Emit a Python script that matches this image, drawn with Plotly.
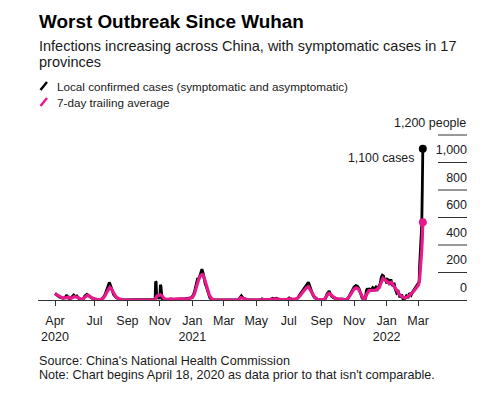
import plotly.graph_objects as go

# ---------------- data ----------------
daily_dates = [
    "2020-04-18", "2020-04-21", "2020-04-24", "2020-04-27", "2020-04-30", "2020-05-03", "2020-05-07",
    "2020-05-10", "2020-05-12", "2020-05-16", "2020-05-20", "2020-05-23", "2020-05-26", "2020-05-29",
    "2020-06-02", "2020-06-06", "2020-06-10", "2020-06-13", "2020-06-17", "2020-06-20", "2020-06-24",
    "2020-06-28", "2020-07-03", "2020-07-08", "2020-07-14", "2020-07-18", "2020-07-21", "2020-07-24",
    "2020-07-27", "2020-07-29", "2020-07-31", "2020-08-03", "2020-08-06", "2020-08-10", "2020-08-14",
    "2020-08-18", "2020-08-22", "2020-10-18", "2020-10-21", "2020-10-23", "2020-10-24", "2020-10-25",
    "2020-10-26", "2020-10-28", "2020-10-30", "2020-11-01", "2020-11-02", "2020-11-03", "2020-11-05",
    "2020-11-08", "2020-11-12", "2020-11-18", "2020-11-22", "2020-11-26", "2020-12-01", "2020-12-05",
    "2020-12-10", "2020-12-15", "2020-12-20", "2020-12-25", "2020-12-29",
    "2021-01-02", "2021-01-05", "2021-01-08", "2021-01-11", "2021-01-13", "2021-01-15", "2021-01-17",
    "2021-01-19", "2021-01-21", "2021-01-23", "2021-01-25", "2021-01-27", "2021-01-29", "2021-01-31",
    "2021-02-03", "2021-02-06", "2021-02-10", "2021-03-28", "2021-03-31", "2021-04-03", "2021-04-06",
    "2021-04-09", "2021-04-14", "2021-05-10", "2021-05-12", "2021-05-14", "2021-05-18", "2021-05-28",
    "2021-06-01", "2021-06-04", "2021-06-08", "2021-06-12", "2021-06-18", "2021-06-28", "2021-07-02",
    "2021-07-05", "2021-07-08", "2021-07-14", "2021-07-18", "2021-07-22", "2021-07-26", "2021-07-30",
    "2021-08-02", "2021-08-05", "2021-08-07", "2021-08-09", "2021-08-12", "2021-08-15", "2021-08-18",
    "2021-08-21", "2021-08-24", "2021-09-05", "2021-09-08", "2021-09-11", "2021-09-13", "2021-09-15",
    "2021-09-17", "2021-09-20", "2021-09-24", "2021-09-28", "2021-10-03", "2021-10-08", "2021-10-13",
    "2021-10-17", "2021-10-20", "2021-10-23", "2021-10-26", "2021-10-29", "2021-11-01", "2021-11-04",
    "2021-11-07", "2021-11-10", "2021-11-13", "2021-11-16", "2021-11-19", "2021-11-22", "2021-11-24",
    "2021-11-26", "2021-11-28", "2021-11-30", "2021-12-03", "2021-12-06", "2021-12-09", "2021-12-12",
    "2021-12-15", "2021-12-18", "2021-12-20", "2021-12-22", "2021-12-24", "2021-12-26", "2021-12-28",
    "2021-12-30", "2022-01-01", "2022-01-03", "2022-01-05", "2022-01-07", "2022-01-09", "2022-01-11",
    "2022-01-13", "2022-01-15", "2022-01-17", "2022-01-20", "2022-01-23", "2022-01-26", "2022-01-29",
    "2022-02-01", "2022-02-04", "2022-02-07", "2022-02-10", "2022-02-13", "2022-02-16", "2022-02-19",
    "2022-02-22", "2022-02-25", "2022-02-27", "2022-03-01", "2022-03-03", "2022-03-04", "2022-03-05",
    "2022-03-06", "2022-03-07", "2022-03-08", "2022-03-09", "2022-03-10",
]
daily_cases = [
    48, 35, 28, 20, 15, 12, 18,
    36, 15, 10, 22, 36, 25, 30,
    10, 2, 8, 30, 42, 30, 20,
    10, 4, 2, 4, 20, 40, 75,
    95, 128, 110, 70, 40, 20, 8,
    2, 0, 0, 5, 10, 135, 130,
    15, 20, 10, 30, 110, 100, 10,
    5, 2, 5, 8, 3, 6, 4,
    8, 6, 10, 12, 15,
    30, 60, 110, 160, 150, 180, 200,
    225, 200, 150, 120, 100, 70, 40,
    15, 5, 0, 0, 20, 30, 15,
    8, 0, 0, 8, 4, 0, 5,
    12, 8, 12, 5, 2, 3, 15,
    10, 3, 5, 15, 40, 60, 85,
    95, 115, 128, 110, 70, 40, 20,
    8, 2, 0, 10, 45, 60, 65,
    45, 25, 15, 10, 5, 8, 5,
    2, 10, 30, 55, 80, 95, 105,
    100, 85, 50, 15, 2, 10, 70,
    85, 60, 80, 75, 90, 80, 95,
    80, 100, 120, 165, 180, 175, 140,
    160, 120, 150, 145, 110, 150, 120,
    100, 125, 80, 50, 60, 20, 40,
    5, 10, 30, 15, 50, 35, 60,
    80, 95, 110, 120, 130, 250, 350,
    420, 480, 550, 800, 1100,
]

avg_dates = [
    "2020-04-18", "2020-04-25", "2020-05-02", "2020-05-08", "2020-05-13", "2020-05-18", "2020-05-24",
    "2020-05-29", "2020-06-04", "2020-06-08", "2020-06-13", "2020-06-18", "2020-06-23", "2020-06-28",
    "2020-07-04", "2020-07-10", "2020-07-16", "2020-07-20", "2020-07-24", "2020-07-27", "2020-07-30",
    "2020-08-02", "2020-08-06", "2020-08-10", "2020-08-15", "2020-08-20", "2020-08-25", "2020-10-20",
    "2020-10-24", "2020-10-27", "2020-10-30", "2020-11-02", "2020-11-05", "2020-11-08", "2020-11-12",
    "2020-11-20", "2020-12-10", "2020-12-25",
    "2021-01-01", "2021-01-05", "2021-01-09", "2021-01-13", "2021-01-17", "2021-01-20", "2021-01-23",
    "2021-01-26", "2021-01-29", "2021-02-02", "2021-02-06", "2021-02-10", "2021-02-15", "2021-03-28",
    "2021-04-02", "2021-04-07", "2021-04-12", "2021-04-17", "2021-05-10", "2021-05-14", "2021-05-18",
    "2021-05-30", "2021-06-04", "2021-06-10", "2021-06-16", "2021-06-28", "2021-07-04", "2021-07-10",
    "2021-07-16", "2021-07-22", "2021-07-28", "2021-08-03", "2021-08-07", "2021-08-11", "2021-08-15",
    "2021-08-19", "2021-08-24", "2021-09-05", "2021-09-10", "2021-09-14", "2021-09-17", "2021-09-21",
    "2021-09-27", "2021-10-05", "2021-10-17", "2021-10-22", "2021-10-27", "2021-11-01", "2021-11-05",
    "2021-11-09", "2021-11-13", "2021-11-18", "2021-11-21", "2021-11-25", "2021-11-29", "2021-12-05",
    "2021-12-12", "2021-12-18", "2021-12-22", "2021-12-25", "2021-12-29",
    "2022-01-02", "2022-01-06", "2022-01-10", "2022-01-14", "2022-01-18", "2022-01-22", "2022-01-26",
    "2022-01-30", "2022-02-04", "2022-02-09", "2022-02-14", "2022-02-19", "2022-02-23", "2022-02-27",
    "2022-03-02", "2022-03-04", "2022-03-05", "2022-03-06", "2022-03-07", "2022-03-08", "2022-03-09",
    "2022-03-10",
]
avg_cases = [
    45, 28, 15, 15, 22, 12, 25,
    22, 8, 3, 20, 35, 25, 12,
    4, 2, 8, 25, 55, 80, 92,
    80, 50, 25, 10, 3, 0, 0,
    10, 30, 35, 38, 30, 15, 5,
    5, 6, 10,
    18, 45, 100, 150, 180, 185, 165,
    125, 80, 35, 10, 2, 0, 0,
    18, 12, 3, 0, 0, 5, 2,
    5, 10, 8, 3, 3, 10, 4,
    8, 30, 60, 88, 97, 75, 45,
    20, 5, 0, 25, 48, 45, 28,
    12, 5, 2, 18, 50, 80, 88,
    80, 50, 12, 5, 45, 68, 70,
    72, 90, 135, 158, 145,
    135, 120, 128, 105, 75, 55, 35,
    25, 15, 22, 38, 55, 75, 95,
    110, 150, 190, 240, 300, 370, 450,
    565,
]

y_tickvals = [0, 200, 400, 600, 800, 1000, 1200]
y_ticktext = ["0", "200", "400", "600", "800", "1,000", "1,200 people"]

x_tickvals = ["2020-04-18", "2020-07-01", "2020-09-01", "2020-11-01", "2021-01-01", "2021-03-01",
              "2021-05-01", "2021-07-01", "2021-09-01", "2021-11-01", "2022-01-01", "2022-03-01"]
x_ticktext = ["Apr<br>2020", "Jul", "Sep", "Nov", "Jan<br>2021", "Mar",
              "May", "Jul", "Sep", "Nov", "Jan<br>2022", "Mar"]

BLACK = "#000000"
PINK = "#e8198b"
TXT = "#1a1a1a"
FONT = "Liberation Sans, Arial, sans-serif"

# page body has an 8px default margin; figure sized to fit the 500x393 window
OFF = 8
W, H = 500 - 2 * OFF, 393 - 2 * OFF
ML, MR, MT, MB = 38 - OFF, W - (467 - OFF), 115 - OFF, H - (300 - OFF)
PW, PH = W - ML - MR, H - MT - MB


def px(x):
    return (x - OFF - ML) / PW


def py(y):
    return (H - MB - (y - OFF)) / PH


fig = go.Figure()
fig.add_trace(go.Scatter(x=daily_dates, y=daily_cases, mode="lines",
                         line=dict(color=BLACK, width=2.8), hoverinfo="skip"))
fig.add_trace(go.Scatter(x=avg_dates, y=avg_cases, mode="lines",
                         line=dict(color=PINK, width=3.2), hoverinfo="skip"))
fig.add_trace(go.Scatter(x=[daily_dates[-1]], y=[daily_cases[-1]], mode="markers",
                         marker=dict(color=BLACK, size=8), hoverinfo="skip"))
fig.add_trace(go.Scatter(x=[avg_dates[-1]], y=[avg_cases[-1]], mode="markers",
                         marker=dict(color=PINK, size=8), hoverinfo="skip"))

# short gridlines under right-side labels
for v in y_tickvals[1:]:
    fig.add_shape(type="line", xref="paper", yref="y", x0=px(438), x1=1, y0=v, y1=v,
                  line=dict(color="#333333", width=1))

# legend icons
fig.add_shape(type="line", xref="paper", yref="paper", x0=px(40.5), x1=px(47), y0=py(90), y1=py(82),
              line=dict(color=BLACK, width=2.5))
fig.add_shape(type="line", xref="paper", yref="paper", x0=px(40.5), x1=px(47), y0=py(106), y1=py(98),
              line=dict(color=PINK, width=2.5))

annos = [
    dict(text="<b>Worst Outbreak Since Wuhan</b>", x=px(37), y=py(21), size=18.9, color="#000000"),
    dict(text="Infections increasing across China, with symptomatic cases in 17", x=px(37), y=py(46),
         size=14.5, color=TXT),
    dict(text="provinces", x=px(37), y=py(62), size=14.5, color=TXT),
    dict(text="Local confirmed cases (symptomatic and asymptomatic)", x=px(54.5), y=py(86), size=11.7,
         color=TXT),
    dict(text="7-day trailing average", x=px(54.5), y=py(102), size=11.7, color=TXT),
    dict(text="Source: China's National Health Commission", x=px(37), y=py(361), size=12.6, color=TXT),
    dict(text="Note: Chart begins April 18, 2020 as data prior to that isn't comparable.", x=px(37),
         y=py(375), size=12.6, color=TXT),
]
for a in annos:
    fig.add_annotation(text=a["text"], x=a["x"], y=a["y"], xref="paper", yref="paper",
                       xanchor="left", yanchor="middle", showarrow=False,
                       font=dict(family=FONT, size=a["size"], color=a["color"]))

# top y label (kept off the axis so it does not suppress the x-axis "Mar" label)
fig.add_annotation(text=y_ticktext[-1], x=1, y=y_tickvals[-1], xref="paper", yref="y",
                   xanchor="right", yanchor="middle", xshift=1, yshift=12, showarrow=False,
                   font=dict(family=FONT, size=12.5, color=TXT))

fig.add_annotation(text="1,100 cases", x=daily_dates[-1], y=daily_cases[-1], xref="x", yref="y",
                   xanchor="right", yanchor="middle", xshift=-7, yshift=-9, showarrow=False,
                   font=dict(family=FONT, size=12.3, color=TXT))

fig.update_layout(
    width=W, height=H,
    margin=dict(l=ML, r=MR, t=MT, b=MB),
    paper_bgcolor="white", plot_bgcolor="white",
    showlegend=False,
    font=dict(family=FONT, size=12, color=TXT),
    xaxis=dict(range=["2020-03-17", "2022-06-01"], tickvals=x_tickvals, ticktext=x_ticktext,
               showgrid=False, zeroline=False, showline=True, linecolor="#333333", linewidth=1,
               ticks="outside", ticklen=9, tickcolor="rgba(0,0,0,0)", tickwidth=1,
               minor=dict(tickvals=x_tickvals, ticks="outside", ticklen=5, tickcolor="#333333",
                          tickwidth=1, showgrid=False),
               tickfont=dict(family=FONT, size=12.5, color=TXT)),
    yaxis=dict(range=[0, 185 / 0.1375], side="right", tickvals=y_tickvals[:-1], ticktext=y_ticktext[:-1],
               ticklabelposition="inside top", ticklabelstandoff=-3, ticklabelshift=-4,
               showgrid=False, zeroline=False, showline=False,
               ticks="", tickfont=dict(family=FONT, size=12.5, color=TXT)),
)

fig.write_html("out.html")
